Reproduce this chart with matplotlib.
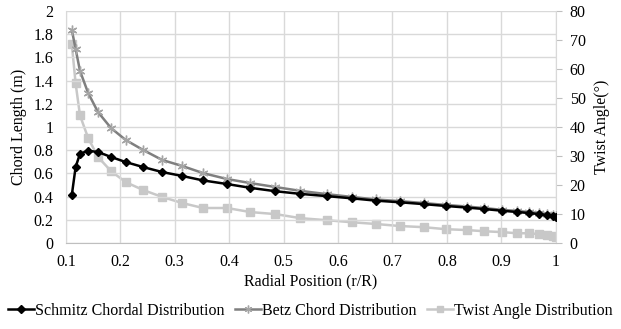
import matplotlib
matplotlib.use("Agg")
import matplotlib.pyplot as plt
from matplotlib.ticker import FuncFormatter

plt.rcParams['font.family'] = ['Liberation Serif', 'DejaVu Serif']

# radial stations (r/R)
r = [0.111, 0.118, 0.126, 0.141, 0.159, 0.183, 0.210, 0.242, 0.277, 0.314,
     0.352, 0.396, 0.439, 0.485, 0.531, 0.579, 0.625, 0.669, 0.713, 0.757,
     0.798, 0.837, 0.868, 0.901, 0.929, 0.951, 0.969, 0.984, 0.995, 1.0]

schmitz = [0.414, 0.655, 0.770, 0.795, 0.785, 0.742, 0.698, 0.655, 0.612, 0.578,
           0.540, 0.509, 0.476, 0.447, 0.424, 0.405, 0.386, 0.366, 0.352, 0.336,
           0.320, 0.306, 0.294, 0.279, 0.268, 0.259, 0.250, 0.241, 0.233, 0.225]

betz = [1.836, 1.672, 1.483, 1.293, 1.129, 0.991, 0.888, 0.802, 0.716, 0.664,
        0.603, 0.552, 0.517, 0.483, 0.450, 0.422, 0.398, 0.376, 0.362, 0.345,
        0.329, 0.315, 0.302, 0.287, 0.277, 0.268, 0.259, 0.250, 0.242, 0.236]

twist = [68.5, 55.0, 44.0, 36.2, 29.7, 24.8, 21.0, 18.3, 15.9, 13.8,
         12.1, 12.1, 10.7, 10.0, 8.6, 7.9, 7.2, 6.6, 5.9, 5.5,
         4.8, 4.5, 4.1, 3.8, 3.4, 3.4, 3.1, 2.8, 2.4, 2.1]

x_ticks = [0.1, 0.2, 0.3, 0.4, 0.5, 0.6, 0.7, 0.8, 0.9, 1.0]
chord_ticks = [0, 0.2, 0.4, 0.6, 0.8, 1.0, 1.2, 1.4, 1.6, 1.8, 2.0]
twist_ticks = [0, 10, 20, 30, 40, 50, 60, 70, 80]

grid_c = '#d9d9d9'
fs = 11.5

fig = plt.figure(figsize=(6.21, 3.29), dpi=100)
ax = fig.add_axes([0.106, 0.261, 0.789, 0.706])
ax2 = ax.twinx()

l1, = ax.plot(r, schmitz, color='black', lw=1.8, marker='D', ms=4.5,
              mfc='black', mec='black', zorder=4)
l2, = ax.plot(r, betz, color='#7f7f7f', lw=1.8, marker=(6, 2, 0), ms=7,
              mec='#a5a5a5', mew=1, zorder=3)
l3, = ax2.plot(r, twist, color='#c8c8c8', lw=1.8, marker='s', ms=5.5,
               mfc='#c8c8c8', mec='#c8c8c8', zorder=2)

ax.set_zorder(ax2.get_zorder() + 1)
ax.patch.set_visible(False)

ax.set_xlim(0.1, 1.0)
ax.set_ylim(0, 2)
ax2.set_ylim(0, 80)
ax.set_xticks(x_ticks)
ax.set_yticks(chord_ticks)
ax2.set_yticks(twist_ticks)

fmt = FuncFormatter(lambda v, p: ('%g' % round(v, 2)))
ax.xaxis.set_major_formatter(fmt)
ax.yaxis.set_major_formatter(fmt)

ax.grid(True, color=grid_c, lw=1)
ax.set_axisbelow(True)

for a in (ax, ax2):
    for s in a.spines.values():
        s.set_visible(False)
    a.tick_params(labelsize=fs, colors='black', length=0)
ax.tick_params(axis='x', pad=8)
ax.tick_params(axis='y', pad=9)
ax2.spines['right'].set_visible(True)
ax2.spines['right'].set_color(grid_c)
ax2.tick_params(axis='y', length=4, color='#bfbfbf', pad=6)
ax.spines['bottom'].set_visible(True)
ax.spines['bottom'].set_color('#bfbfbf')
ax.spines['left'].set_visible(True)
ax.spines['left'].set_color(grid_c)

ax.set_xlabel('Radial Position (r/R)', fontsize=fs, labelpad=2)
ax.set_ylabel('Chord Length (m)', fontsize=fs, labelpad=5)
ax2.set_ylabel('Twist Angle(°)', fontsize=fs, labelpad=6)

fig.legend([l1, l2, l3],
           ['Schmitz Chordal Distribution', 'Betz Chord Distribution',
            'Twist Angle Distribution'],
           loc='center', bbox_to_anchor=(0.5, 0.055), ncol=3, frameon=False,
           fontsize=fs, handlelength=1.6, handletextpad=0.1, columnspacing=0.65,
           markerscale=0.8, borderaxespad=0)

fig.savefig('out.png', dpi=100)
